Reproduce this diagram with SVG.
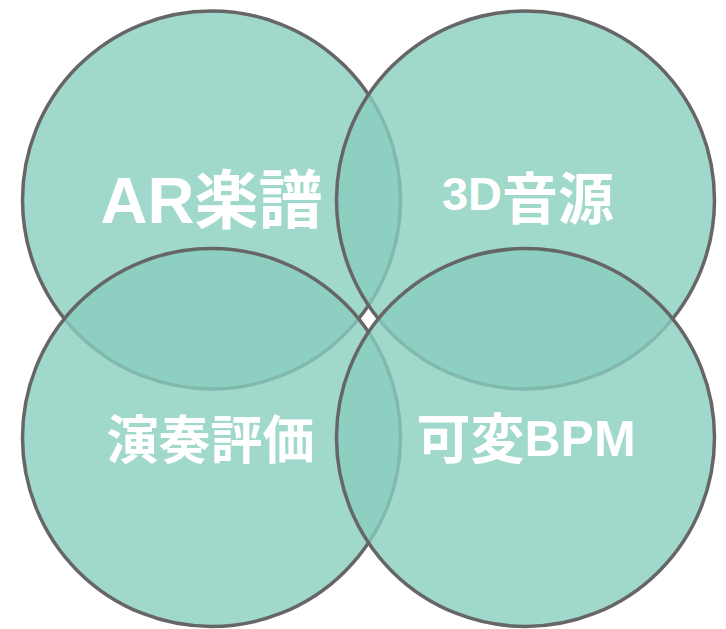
<svg xmlns="http://www.w3.org/2000/svg" width="726" height="629" viewBox="0 0 726 629">
  <style>
    .c { fill: #88CEBF; fill-opacity: 0.8; stroke: #666666; stroke-width: 3.5; }
    .t { fill: #FFFFFF; font-family: "Liberation Sans", "Noto Sans CJK JP", sans-serif; font-weight: bold; text-anchor: middle; }
  </style>
  <rect width="726" height="629" fill="#FFFFFF"/>
  <g id="node-ar">
    <circle class="c" cx="211.5" cy="200" r="189"/>
  </g>
  <g id="node-3d">
    <circle class="c" cx="525.5" cy="200" r="189"/>
  </g>
  <g id="node-eval">
    <circle class="c" cx="211.5" cy="437.5" r="189"/>
  </g>
  <g id="node-bpm">
    <circle class="c" cx="525.5" cy="437.5" r="189"/>
  </g>
  <g id="labels">
    <text class="t" x="211.5" y="223"><tspan font-size="65">AR</tspan><tspan font-size="64">楽譜</tspan></text>
    <text class="t" x="528" y="219"><tspan font-size="47" dy="-9">3D</tspan><tspan font-size="56" dy="9">音源</tspan></text>
    <text class="t" x="210.5" y="459" font-size="52">演奏評価</text>
    <text class="t" x="526" y="459"><tspan font-size="54">可変</tspan><tspan font-size="50" dy="-3">BPM</tspan></text>
  </g>
  <g id="connectors"></g>
</svg>
